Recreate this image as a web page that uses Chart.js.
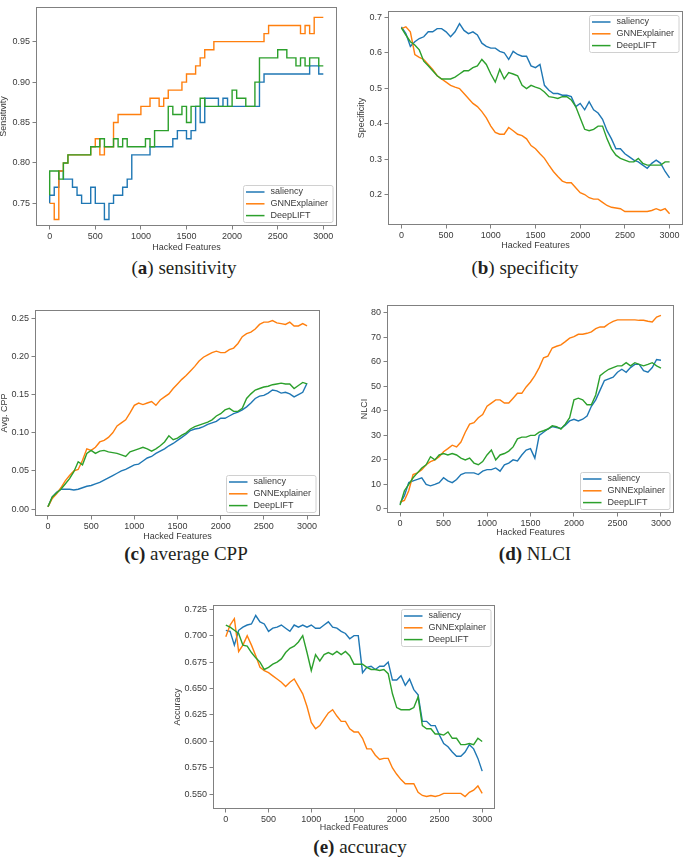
<!DOCTYPE html>
<html><head><meta charset="utf-8">
<script src="https://cdn.jsdelivr.net/npm/chart.js@4.4.0/dist/chart.umd.min.js"></script>
<style>
body{margin:0;background:#fff;width:685px;height:857px;position:relative;overflow:hidden;}
canvas{position:absolute;}
.cap{position:absolute;width:300px;text-align:center;font-family:"Liberation Serif","Times New Roman",serif;font-size:19px;line-height:22px;color:#231f20;white-space:nowrap;}
.cap b{font-weight:bold;}
</style></head><body>
<div class="cap" style="left:34px;top:257px">(<b>a</b>) sensitivity</div>
<div class="cap" style="left:375px;top:257px">(<b>b</b>) specificity</div>
<div class="cap" style="left:36px;top:543px"><b>(c)</b> average CPP</div>
<div class="cap" style="left:385px;top:543px"><b>(d)</b> NLCI</div>
<div class="cap" style="left:210px;top:836px"><b>(e)</b> accuracy</div>
<script>
// ---------- data ----------
const hacked = [0,50,100,150,200,250,300,350,400,450,500,550,600,650,700,750,800,850,900,950,
1000,1050,1100,1150,1200,1250,1300,1350,1400,1450,1500,1550,1600,1650,1700,1750,1800,1850,1900,1950,
2000,2050,2100,2150,2200,2250,2300,2350,2400,2450,2500,2550,2600,2650,2700,2750,2800,2850,2900,2950,3000];
const xTickLabels = ['0','500','1000','1500','2000','2500','3000'];
const seriesNames = ['saliency','GNNExplainer','DeepLIFT'];

// (a) sensitivity
const sensSaliency = [0.75,0.76,0.77,0.79,0.78,0.78,0.77,0.76,0.75,0.75, 0.77,0.75,0.75,0.73,0.75,0.76,0.76,0.77,0.78,0.81,
0.81,0.81,0.81,0.82,0.82,0.82,0.82,0.82,0.83,0.84, 0.84,0.83,0.84,0.87,0.85,0.88,0.88,0.88,0.87,0.88,
0.87,0.87,0.87,0.87,0.87,0.87,0.87,0.90,0.91,0.91, 0.91,0.91,0.91,0.91,0.91,0.91,0.91,0.91,0.92,0.92, 0.91];
const sensGNN = [0.75,0.75,0.73,0.79,0.80,0.81,0.81,0.81,0.81,0.81, 0.82,0.83,0.81,0.82,0.82,0.85,0.86,0.86,0.86,0.86,
0.86,0.87,0.87,0.88,0.88,0.87,0.88,0.89,0.89,0.89, 0.90,0.91,0.91,0.92,0.93,0.94,0.94,0.95,0.95,0.95,
0.95,0.95,0.95,0.95,0.95,0.95,0.95,0.95,0.96,0.97, 0.97,0.97,0.97,0.97,0.97,0.97,0.96,0.97,0.96,0.98, 0.98];
const sensDeepLIFT = [0.76,0.79,0.79,0.78,0.80,0.81,0.81,0.81,0.81,0.81, 0.82,0.82,0.83,0.82,0.82,0.83,0.82,0.83,0.82,0.82,
0.82,0.82,0.83,0.82,0.84,0.84,0.84,0.87,0.86,0.86, 0.87,0.85,0.87,0.87,0.88,0.87,0.87,0.87,0.87,0.87,
0.87,0.89,0.88,0.88,0.87,0.87,0.90,0.93,0.93,0.93, 0.93,0.94,0.94,0.93,0.93,0.92,0.93,0.92,0.93,0.93, 0.92];
const sensTicks = ['0.75','0.80','0.85','0.90','0.95'];

// (b) specificity
const specSaliency = [0.673,0.654,0.618,0.631,0.640,0.645,0.659,0.659,0.668,0.668, 0.659,0.645,0.659,0.682,0.663,0.654,0.659,0.650,0.627,0.618,
0.613,0.613,0.604,0.600,0.581,0.604,0.595,0.590,0.590,0.563, 0.558,0.567,0.508,0.494,0.485,0.485,0.480,0.480,0.476,0.448,
0.457,0.439,0.462,0.439,0.430,0.412,0.380,0.357,0.329,0.329, 0.315,0.306,0.297,0.292,0.283,0.274,0.288,0.297,0.288,0.265, 0.247];
const specGNN = [0.668,0.673,0.659,0.595,0.587,0.581,0.567,0.553,0.535,0.526, 0.517,0.508,0.503,0.499,0.485,0.471,0.457,0.448,0.434,0.416,
0.393,0.375,0.370,0.370,0.389,0.380,0.370,0.366,0.357,0.338, 0.329,0.315,0.302,0.283,0.265,0.251,0.238,0.233,0.233,0.219,
0.205,0.200,0.191,0.187,0.187,0.178,0.169,0.164,0.162,0.160, 0.152,0.152,0.152,0.152,0.152,0.152,0.155,0.160,0.155,0.160, 0.146];
const specDeepLIFT = [0.670,0.650,0.631,0.622,0.608,0.576,0.563,0.549,0.535,0.526, 0.526,0.526,0.531,0.540,0.549,0.549,0.558,0.563,0.581,0.567,
0.540,0.517,0.553,0.526,0.544,0.540,0.535,0.508,0.499,0.508, 0.503,0.499,0.489,0.476,0.474,0.471,0.476,0.476,0.467,0.448,
0.416,0.384,0.380,0.384,0.393,0.393,0.357,0.329,0.311,0.302, 0.297,0.292,0.292,0.302,0.288,0.283,0.283,0.283,0.283,0.292, 0.292];
const specTicks = ['0.2','0.3','0.4','0.5','0.6','0.7'];

// (c) average CPP
const cppSaliency = [0.003,0.016,0.022,0.026,0.026,0.026,0.025,0.026,0.028,0.030, 0.031,0.033,0.035,0.038,0.041,0.044,0.047,0.050,0.052,0.055,
0.058,0.059,0.063,0.067,0.069,0.073,0.076,0.079,0.083,0.086, 0.090,0.094,0.098,0.103,0.105,0.106,0.108,0.111,0.113,0.115,
0.119,0.119,0.122,0.125,0.127,0.130,0.134,0.139,0.145,0.148, 0.149,0.152,0.156,0.155,0.152,0.153,0.151,0.147,0.150,0.153, 0.165];
const cppGNN = [0.003,0.014,0.020,0.028,0.037,0.044,0.050,0.052,0.064,0.079, 0.077,0.081,0.088,0.090,0.094,0.100,0.109,0.113,0.117,0.126,
0.136,0.139,0.137,0.139,0.141,0.136,0.143,0.147,0.151,0.158, 0.164,0.170,0.175,0.181,0.187,0.194,0.199,0.202,0.205,0.207,
0.205,0.205,0.209,0.211,0.217,0.226,0.230,0.232,0.236,0.242, 0.245,0.245,0.247,0.244,0.243,0.242,0.245,0.240,0.240,0.243, 0.240];
const cppDeepLIFT = [0.003,0.016,0.021,0.026,0.033,0.040,0.049,0.062,0.058,0.073, 0.077,0.073,0.076,0.077,0.075,0.074,0.073,0.071,0.069,0.075,
0.077,0.079,0.081,0.079,0.076,0.079,0.083,0.088,0.096,0.091, 0.093,0.097,0.100,0.105,0.108,0.110,0.112,0.114,0.117,0.122,
0.125,0.130,0.132,0.128,0.128,0.132,0.145,0.151,0.156,0.158, 0.160,0.161,0.163,0.164,0.165,0.164,0.164,0.158,0.162,0.166, 0.164];
const cppTicks = ['0.00','0.05','0.10','0.15','0.20','0.25'];

// (d) NLCI
const nlciSaliency = [2.1,5.4,10.7,11.4,12,12.7,10,9.4,10,10.7, 12.7,11.4,10.7,12,14,14.7,14.7,14.7,14,15.4,
16,16,16.7,15.4,18,18.7,20,19.6,22,24, 24.6,20.7,30,31.3,32.6,33.6,33.2,32.8,34.2,35.9,
36.6,35.9,36.6,37.9,41.9,44.5,48.5,52.4,53.1,53.8, 55.8,57,55.8,57.7,59,59,56.4,55.8,57.7,61, 60.7];
const nlciGNN = [2.8,3.4,7.4,14,14.7,16,18,19.3,20,21.3, 23.3,24.6,26,25.3,27.3,31.3,34.6,35.2,37.2,38.5,
41.9,43.2,44.5,44.5,43.2,43.2,45.2,47.2,47.2,49.8, 51.8,54.4,57.7,61.7,62.4,65.7,66.4,67,68.3,69.7,
70.3,71.3,71.3,71.7,72.3,73.6,74.3,74.3,75.6,76.6, 77.2,77.2,77.2,77.2,77.2,77,77,76.6,76.3,78.3, 79];
const nlciDeepLIFT = [1.5,7.4,10,12.7,14.7,16.7,18,21.3,20,22, 22.6,22,22.6,22,20.7,20,20.7,18.7,18,19.3,
22,24,20,22,22.6,23.6,25.3,28.6,29.3,29.3, 30,30,31.3,31.9,32.6,33.9,33.6,32.6,34.6,37.2,
44.5,45.2,44.5,42.5,42.5,46.5,54.4,55.8,57,57.7, 58.4,58.4,59.7,58.4,59.7,59,58.4,59,59.7,58.4, 57.5];
const nlciTicks = ['0','10','20','30','40','50','60','70','80'];

// (e) accuracy
const accSaliency = [0.705,0.704,0.691,0.705,0.708,0.710,0.711,0.719,0.713,0.711, 0.704,0.707,0.708,0.710,0.707,0.704,0.710,0.708,0.710,0.708,
0.710,0.707,0.707,0.710,0.713,0.708,0.707,0.704,0.702,0.697, 0.700,0.700,0.665,0.670,0.671,0.668,0.671,0.671,0.675,0.658,
0.658,0.662,0.653,0.659,0.649,0.644,0.619,0.619,0.615,0.615, 0.606,0.598,0.595,0.590,0.586,0.586,0.590,0.597,0.593,0.584, 0.572];
const accGNN = [0.699,0.710,0.716,0.685,0.691,0.700,0.691,0.681,0.670,0.667, 0.665,0.662,0.659,0.656,0.652,0.656,0.659,0.652,0.645,0.633,
0.618,0.612,0.615,0.621,0.627,0.630,0.624,0.619,0.619,0.612, 0.609,0.609,0.603,0.593,0.593,0.587,0.583,0.584,0.584,0.575,
0.569,0.564,0.560,0.560,0.560,0.552,0.549,0.548,0.549,0.548, 0.549,0.551,0.551,0.551,0.551,0.551,0.548,0.552,0.554,0.558, 0.551];
const accDeepLIFT = [0.710,0.708,0.705,0.702,0.691,0.690,0.684,0.679,0.675,0.668, 0.670,0.673,0.675,0.678,0.684,0.688,0.690,0.694,0.700,0.684,
0.667,0.682,0.676,0.682,0.684,0.682,0.685,0.682,0.685,0.681, 0.673,0.673,0.673,0.670,0.668,0.668,0.667,0.668,0.664,0.645,
0.632,0.630,0.630,0.630,0.632,0.642,0.615,0.612,0.612,0.607, 0.607,0.606,0.609,0.603,0.603,0.597,0.597,0.598,0.597,0.603, 0.600];
const accTicks = ['0.550','0.575','0.600','0.625','0.650','0.675','0.700','0.725'];

// ---------- drawing ----------
const COLORS = ['#1f77b4','#ff7f0e','#2ca02c'];
const FONT = '"Liberation Sans", Arial, sans-serif';
const TXT = '#3a3a3a';
const FRAME = '#808080';

const framePlugin = {
  id:'frame',
  afterDatasetsDraw(chart){
    const a = chart.chartArea, ctx = chart.ctx;
    ctx.save();
    ctx.strokeStyle = FRAME; ctx.lineWidth = 1;
    ctx.strokeRect(Math.round(a.left)+0.5, Math.round(a.top)+0.5, Math.round(a.right-a.left)-1, Math.round(a.bottom-a.top)-1);
    ctx.restore();
  }
};
function legendPlugin(pos){
  return {
    id:'boxlegend',
    afterDraw(chart){
      const ctx = chart.ctx, a = chart.chartArea, ds = chart.data.datasets;
      ctx.save();
      ctx.font = '9px ' + FONT;
      const tw = Math.max(...ds.map(d => ctx.measureText(d.label).width));
      const w = 27 + tw + 5, h = 37;
      const x0 = Math.round(a.right - 4 - w) + 0.5;
      const y0 = Math.round(pos === 'ur' ? a.top + 4 : a.bottom - 4 - h) + 0.5;
      ctx.beginPath();
      if (ctx.roundRect) ctx.roundRect(x0, y0, w, h, 2); else ctx.rect(x0, y0, w, h);
      ctx.fillStyle = 'rgba(255,255,255,0.85)'; ctx.fill();
      ctx.strokeStyle = '#d0d0d0'; ctx.lineWidth = 1; ctx.stroke();
      ds.forEach((d, i) => {
        const yy = y0 + 6.5 + i * 11.8;
        ctx.beginPath(); ctx.strokeStyle = d.borderColor; ctx.lineWidth = 1.5;
        ctx.moveTo(x0 + 2.5, yy); ctx.lineTo(x0 + 21, yy); ctx.stroke();
        ctx.fillStyle = TXT; ctx.textBaseline = 'middle'; ctx.textAlign = 'left';
        ctx.fillText(d.label, x0 + 27, yy);
      });
      ctx.restore();
    }
  };
}

function makeChart(p){
  const c = document.createElement('canvas');
  const left = p.L - 44, top = p.T - 2;
  const w = p.R - p.L + 48, h = p.B - p.T + 2 + 32;
  c.width = w; c.height = h;
  c.style.left = left + 'px'; c.style.top = top + 'px';
  c.style.width = w + 'px'; c.style.height = h + 'px';
  document.body.appendChild(c);
  const tickFont = {family: FONT, size: 9};
  new Chart(c, {
    type: 'line',
    data: {
      datasets: p.series.map((s, i) => ({
        label: seriesNames[i],
        data: hacked.map((x, j) => ({x: x, y: s[j]})),
        borderColor: COLORS[i], backgroundColor: COLORS[i],
        borderWidth: 1.4, pointRadius: 0, fill: false, tension: 0,
        stepped: p.stepped ? 'after' : false,
        order: 3 - i
      }))
    },
    options: {
      responsive: false, animation: false, devicePixelRatio: 1,
      layout: {padding: {left: 0, top: 2, right: 4, bottom: 0}},
      plugins: {legend: {display: false}, tooltip: {enabled: false}},
      scales: {
        x: {
          type: 'linear', min: -150, max: 3150,
          afterFit(s){ s.height = 32; },
          afterBuildTicks(s){ s.ticks = xTickLabels.map(t => ({value: +t})); },
          ticks: {autoSkip: false, maxRotation: 0, padding: 1.5, color: TXT, font: tickFont,
                  callback: (v, i) => xTickLabels[i]},
          grid: {display: true, drawOnChartArea: false, drawTicks: true, tickLength: 3.5, color: FRAME},
          border: {display: false},
          title: {display: true, text: 'Hacked Features', color: TXT, font: tickFont,
                  padding: {top: 0, bottom: p.xTitlePad}}
        },
        y: {
          type: 'linear', min: p.yMin, max: p.yMax,
          afterFit(s){ s.width = 44; },
          afterBuildTicks(s){ s.ticks = p.yTicks.map(t => ({value: +t})); },
          ticks: {autoSkip: false, padding: 2.5, color: TXT, font: tickFont,
                  callback: (v, i) => p.yTicks[i]},
          grid: {display: true, drawOnChartArea: false, drawTicks: true, tickLength: 3.5, color: FRAME},
          border: {display: false},
          title: {display: true, text: p.yTitle, color: TXT, font: tickFont,
                  padding: {top: p.yTitlePad, bottom: 0}}
        }
      }
    },
    plugins: [framePlugin, legendPlugin(p.legend)]
  });
}

makeChart({L:36, T:1, R:337, B:226, yMin:0.722, yMax:0.993, yTicks:sensTicks,
  series:[sensSaliency, sensGNN, sensDeepLIFT], yTitle:'Sensitivity', yTitlePad:6.6, xTitlePad:4.6, legend:'lr', stepped:true});
makeChart({L:388, T:5, R:683, B:225, yMin:0.114, yMax:0.718, yTicks:specTicks,
  series:[specSaliency, specGNN, specDeepLIFT], yTitle:'Specificity', yTitlePad:12.3, xTitlePad:5.9, legend:'ur', stepped:false});
makeChart({L:35, T:304, R:320, B:516, yMin:-0.009, yMax:0.261, yTicks:cppTicks,
  series:[cppSaliency, cppGNN, cppDeepLIFT], yTitle:'Avg. CPP', yTitlePad:8.6, xTitlePad:6.3, legend:'lr', stepped:false});
makeChart({L:387, T:299, R:674, B:513, yMin:-1.7, yMax:83.3, yTicks:nlciTicks,
  series:[nlciSaliency, nlciGNN, nlciDeepLIFT], yTitle:'NLCI', yTitlePad:16.6, xTitlePad:6.9, legend:'lr', stepped:false});
makeChart({L:213, T:599, R:495, B:809, yMin:0.5362, yMax:0.729, yTicks:accTicks,
  series:[accSaliency, accGNN, accDeepLIFT], yTitle:'Accuracy', yTitlePad:3.3, xTitlePad:7.6, legend:'ur', stepped:false});
</script>
</body></html>
